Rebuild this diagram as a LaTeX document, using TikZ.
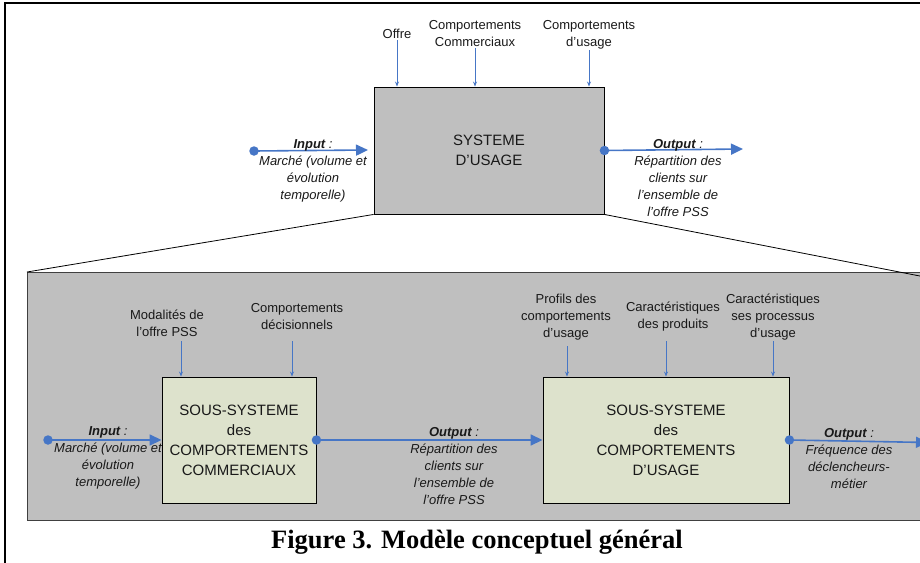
\documentclass[tikz,border=0pt]{standalone}
\usepackage{fontspec}
\setmainfont{Liberation Sans}
\newfontfamily\capfont{Liberation Serif}
\usetikzlibrary{arrows.meta}
\definecolor{arrblue}{RGB}{70,118,198}
\definecolor{boxgray}{RGB}{191,191,191}
\definecolor{subfill}{RGB}{221,226,204}
\definecolor{txt}{RGB}{25,25,25}
\tikzset{
  sysbox/.style={draw=black, line width=0.9pt, fill=boxgray, align=center, text=txt,
    font=\fontsize{15}{20}\selectfont, inner sep=0pt},
  subbox/.style={draw=black, line width=0.9pt, fill=subfill, align=center, text=txt,
    font=\fontsize{15}{20}\selectfont, inner sep=0pt},
  lbl/.style={align=center, text=txt, font=\fontsize{13}{17}\selectfont, inner sep=1pt},
  ilbl/.style={align=center, text=txt, font=\fontsize{13}{17}\selectfont\itshape, inner sep=1pt},
  inarr/.style={draw=arrblue, line width=1pt, -{Stealth[length=5pt,width=4pt]}},
  flowarr/.style={draw=arrblue, line width=1.6pt, -{Triangle[length=12pt,width=11pt]}},
  dotst/.style={circle, fill=arrblue, inner sep=0pt, minimum size=9.5pt},
  funnel/.style={draw=black, line width=0.8pt}
}
\begin{document}
\begin{tikzpicture}[x=1pt,y=-1pt]
\useasboundingbox (0,0) rectangle (920,562);
\clip (0,0) rectangle (920,562);
% outer frame
\draw[line width=2pt, black] (5,3) rectangle (940,580);
% lower gray panel
\node[draw=black!75, line width=1pt, fill=boxgray, minimum width=920pt, minimum height=248pt, inner sep=0pt, anchor=north west] (panel) at (27,272) {};
% top system box
\node[sysbox, minimum width=230pt, minimum height=127pt] (sys) at (489,150.5) {SYSTEME\\D'USAGE};
% funnel lines
\coordinate (fr) at (925,277);
\draw[funnel] (sys.south west) -- (panel.north west);
\draw[funnel] (sys.south east) -- (fr);
% top inputs
\node[lbl] (offre) at (397,34) {Offre};
\node[lbl] (ccom) at (475,33.5) {Comportements\\Commerciaux};
\node[lbl] (cusa) at (589,34.5) {Comportements\\d'usage};
\draw[inarr] (offre.south) -- (offre.south |- sys.north);
\draw[inarr] (ccom.south) -- (ccom.south |- sys.north);
\draw[inarr] (cusa.south) -- (cusa.south |- sys.north);
% top input / output
\node[dotst] (tin) at (254,151) {};
\coordinate (tinend) at (368,150);
\draw[flowarr] (tin.center) -- (tinend);
\node[ilbl] (tinl) at (313,170.5) {\textbf{Input} :\\Marché (volume et\\évolution\\temporelle)};
\node[dotst] (tout) at (sys.east) {};
\coordinate (toutend) at (743,149);
\draw[flowarr] (tout.center) -- (toutend);
\node[ilbl] (toutl) at (678,178.5) {\textbf{Output} :\\Répartition des\\clients sur\\l'ensemble de\\l'offre PSS};
% sub-systems
\node[subbox, minimum width=154pt, minimum height=126pt] (sub1) at (239,440) {SOUS-SYSTEME\\des\\COMPORTEMENTS\\COMMERCIAUX};
\node[subbox, minimum width=246pt, minimum height=126pt] (sub2) at (666,440) {SOUS-SYSTEME\\des\\COMPORTEMENTS\\D'USAGE};
% sub1 inputs
\node[lbl] (moda) at (167,323.5) {Modalités de\\l'offre PSS};
\node[lbl] (cdec) at (297,316.5) {Comportements\\décisionnels};
\coordinate (modaa) at (181,341);
\coordinate (cdeca) at (292,341);
\draw[inarr] (modaa) -- (modaa |- sub1.north);
\draw[inarr] (cdeca) -- (cdeca |- sub1.north);
% sub2 inputs
\node[lbl] (prof) at (566,317) {Profils des\\comportements\\d'usage};
\node[lbl] (cprod) at (673,316.5) {Caractéristiques\\des produits};
\node[lbl] (cproc) at (773,317) {Caractéristiques\\ses processus\\d'usage};
\coordinate (profa) at (567,346);
\coordinate (cproda) at (666,341);
\coordinate (cproca) at (773,341);
\draw[inarr] (profa) -- (profa |- sub2.north);
\draw[inarr] (cproda) -- (cproda |- sub2.north);
\draw[inarr] (cproca) -- (cproca |- sub2.north);
% lower flows
\node[dotst] (lin) at (48,440) {};
\draw[flowarr] (lin.center) -- (sub1.west);
\node[ilbl] (linl) at (108,458) {\textbf{Input} :\\Marché (volume et\\évolution\\temporelle)};
\node[dotst] (mout) at (sub1.east) {};
\draw[flowarr] (mout.center) -- (sub2.west);
\node[ilbl] (moutl) at (454,466) {\textbf{Output} :\\Répartition des\\clients sur\\l'ensemble de\\l'offre PSS};
\node[dotst] (rout) at (sub2.east) {};
\coordinate (routend) at (928,442.5);
\draw[flowarr] (rout.center) -- (routend);
\node[ilbl] (routl) at (849,459) {\textbf{Output} :\\Fréquence des\\déclencheurs-\\métier};
% caption
\node[font=\capfont\bfseries\fontsize{26.5}{30}\selectfont, text=black, inner sep=0pt] (cap) at (477,542) {Figure 3. Modèle conceptuel général};
\end{tikzpicture}
\end{document}
